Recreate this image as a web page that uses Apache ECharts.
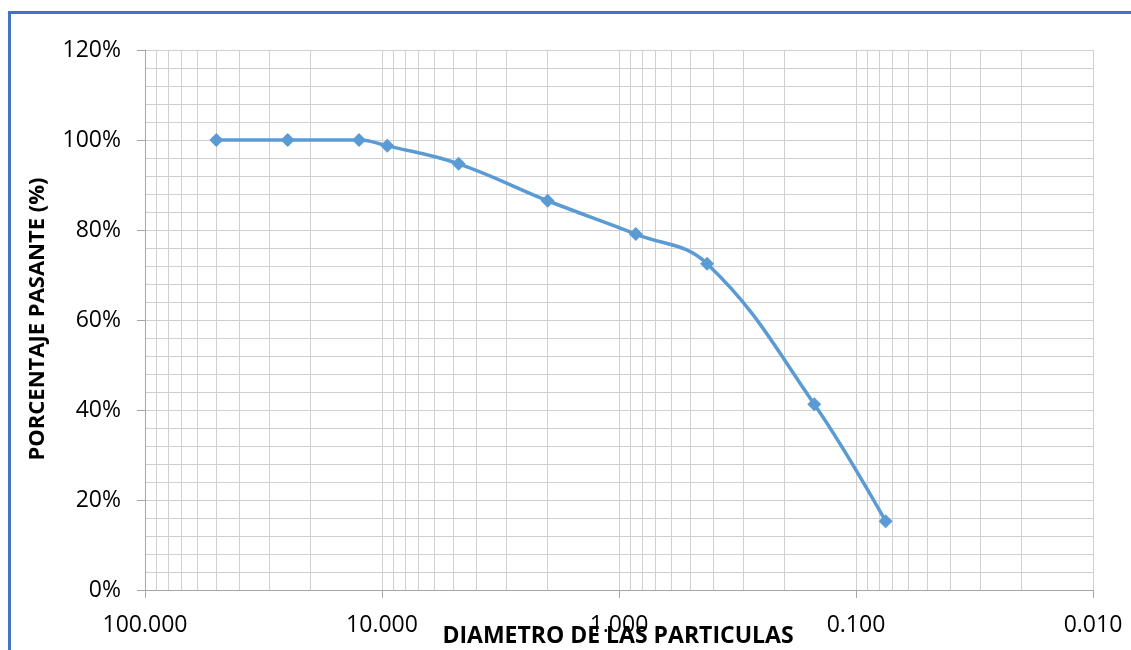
<!DOCTYPE html>
<html>
<head>
<meta charset="utf-8">
<script src="https://cdn.jsdelivr.net/npm/echarts@6/dist/echarts.min.js"></script>
<style>
html,body{margin:0;padding:0;background:#fff;}
#chart{width:1131px;height:650px;}
</style>
</head>
<body>
<div id="chart"></div>
<script>
// Sieve sizes (mm) and percent passing
const sizes = [50, 25, 12.5, 9.5, 4.75, 2.0, 0.85, 0.425, 0.15, 0.075];
const passing = [100, 100, 100, 98.7, 94.7, 86.5, 79.1, 72.5, 41.3, 15.3];
const xTitle = 'DIAMETRO DE LAS PARTICULAS';
const yTitle = 'PORCENTAJE PASANTE (%)';
const decades = [0.01, 0.1, 1, 10];
const minorSteps = [2, 3, 4, 5, 6, 7, 8, 9];

const minorLines = [];
decades.forEach(d => minorSteps.forEach(m => minorLines.push({ xAxis: +(d * m).toPrecision(3) })));

const gridColor = '#d0d0d0';
const axisColor = '#a6a6a6';
const font = "'Open Sans', 'Liberation Sans', sans-serif";

const chart = echarts.init(document.getElementById('chart'), null, { renderer: 'canvas' });
chart.setOption({
  animation: false,
  backgroundColor: '#ffffff',
  grid: { left: 145, right: 38, top: 50, bottom: 60, containLabel: false },
  xAxis: {
    type: 'log',
    logBase: 10,
    min: 0.01,
    max: 100,
    inverse: true,
    axisLine: { show: true, lineStyle: { color: axisColor, width: 1 } },
    axisTick: { show: true, length: 8, lineStyle: { color: axisColor } },
    splitLine: { show: true, lineStyle: { color: gridColor, width: 1 } },
    axisLabel: {
      formatter: v => Number(v).toFixed(3),
      fontFamily: font, fontSize: 23, color: '#000', margin: 24,
      showMinLabel: true, showMaxLabel: true
    }
  },
  yAxis: {
    type: 'value',
    min: 0,
    max: 120,
    interval: 20,
    axisLine: { show: true, lineStyle: { color: axisColor, width: 1 } },
    axisTick: { show: true, length: 8, lineStyle: { color: axisColor } },
    splitLine: { show: true, lineStyle: { color: gridColor, width: 1 } },
    minorTick: { show: false, splitNumber: 5 },
    minorSplitLine: { show: true, lineStyle: { color: gridColor, width: 1 } },
    axisLabel: { formatter: '{value}%', fontFamily: font, fontSize: 23, color: '#000', margin: 24 }
  },
  series: [
    {
      type: 'line',
      z: 1,
      silent: true,
      data: sizes.map((s, i) => [s, passing[i]]),
      showSymbol: false,
      lineStyle: { opacity: 0 },
      markLine: {
        silent: true,
        symbol: ['none', 'none'],
        label: { show: false },
        lineStyle: { color: gridColor, width: 1, type: 'solid' },
        data: minorLines
      }
    },
    {
      type: 'line',
      z: 5,
      smooth: 0.4,
      data: sizes.map((s, i) => [s, passing[i]]),
      symbol: 'diamond',
      symbolSize: 14,
      lineStyle: { color: '#5B9BD5', width: 3.5 },
      itemStyle: { color: '#5B9BD5' }
    }
  ],
  graphic: [
    {
      type: 'rect',
      shape: { x: 9.5, y: 12.5, width: 1200, height: 700 },
      style: { fill: 'none', stroke: '#4472C4', lineWidth: 3 },
      silent: true
    },
    {
      type: 'text',
      x: 618, y: 636,
      style: { text: xTitle, fontFamily: font, fontWeight: 'bold', fontSize: 23, fill: '#000', textAlign: 'center', textVerticalAlign: 'middle' }
    },
    {
      type: 'text',
      x: 38, y: 319,
      rotation: Math.PI / 2,
      style: { text: yTitle, fontFamily: font, fontWeight: 'bold', fontSize: 22, fill: '#000', textAlign: 'center', textVerticalAlign: 'middle' }
    }
  ]
});
</script>
</body>
</html>
